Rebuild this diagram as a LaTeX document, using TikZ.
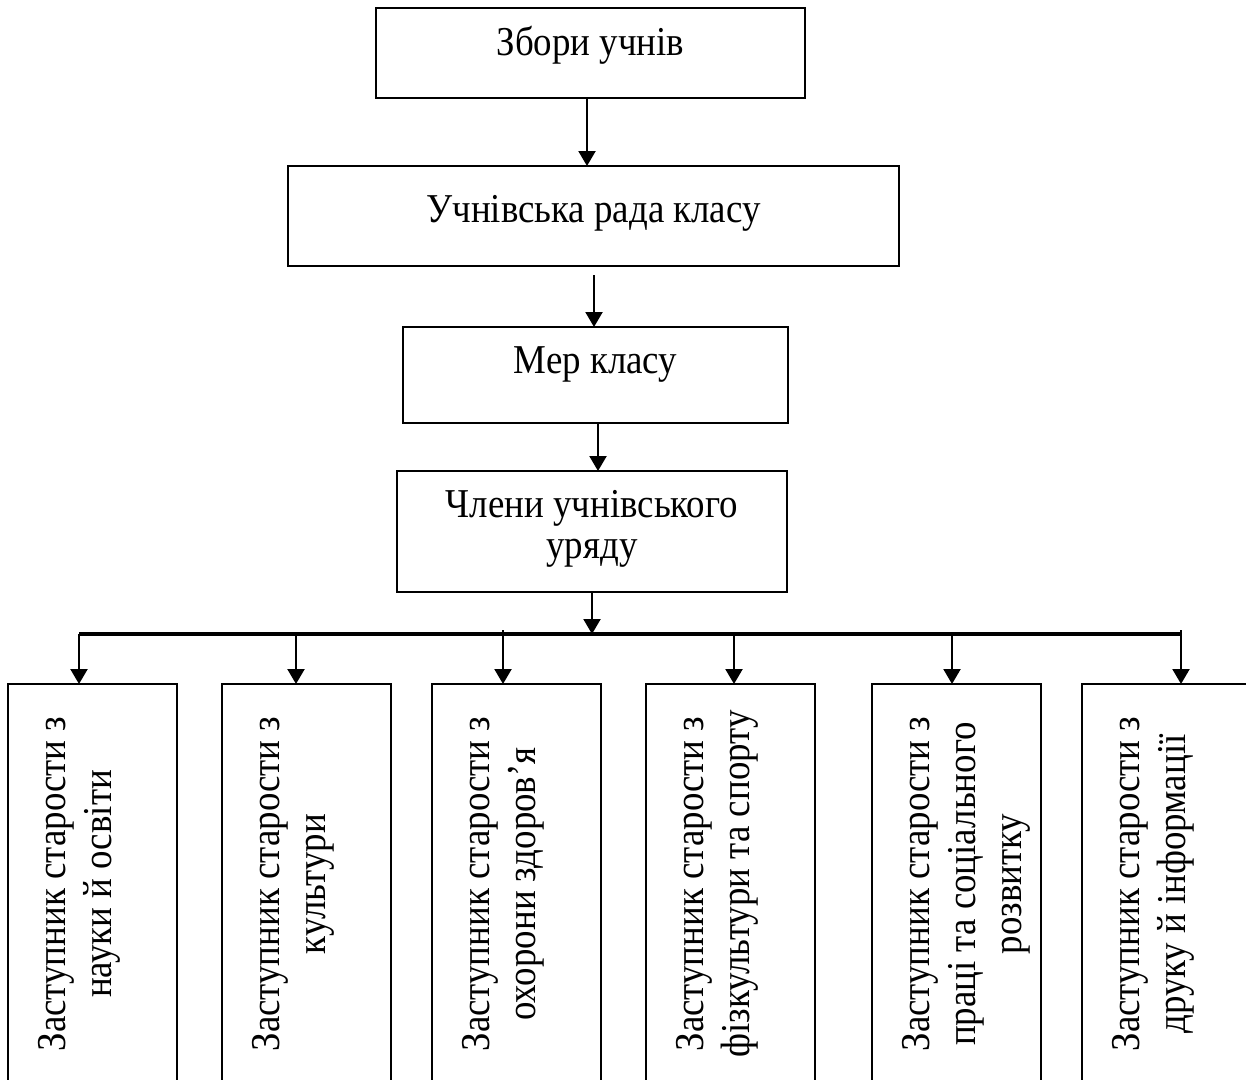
\documentclass[tikz,border=0pt]{standalone}
\usepackage{fontspec}
\setmainfont[FakeStretch=0.9]{Liberation Serif}
\usetikzlibrary{arrows.meta}
\begin{document}
\begin{tikzpicture}[x=1pt,y=-1pt,
  box/.style={draw, line width=2pt, inner sep=0pt, outer sep=0pt},
  arr/.style={line width=2.2pt, -{Triangle[length=15pt,width=17pt]}},
  bus/.style={line width=3.8pt},
  htext/.style={font=\fontsize{41}{41}\selectfont, inner sep=0pt, align=center},
  vtext/.style={font=\fontsize{41}{46}\selectfont, inner sep=0pt, align=center, rotate=90, anchor=north}]
\useasboundingbox (0,0) rectangle (1246,1079);
\clip (0,0) rectangle (1246,1079);
\fill[white] (0,0) rectangle (1246,1079);

% upper chain
\node[box, minimum width=429pt, minimum height=90pt] (b1) at (590.5,53) {};
\node[htext, anchor=base] (t1) at (590.5,55) {Збори учнів};
\node[box, minimum width=611pt, minimum height=100pt] (b2) at (593.5,216) {};
\node[htext, anchor=base] (t2) at (593.5,222) {Учнівська рада класу};
\node[box, minimum width=385pt, minimum height=96pt] (b3) at (595.5,375) {};
\node[htext, anchor=base] (t3) at (595.5,373) {Мер класу};
\node[box, minimum width=390pt, minimum height=121pt] (b4) at (592,531.5) {};
\node[htext, anchor=north] (t4) at (592,490) {Члени учнівського\\уряду};

% lower boxes
\node[box, minimum width=169pt, minimum height=430pt] (v1) at (92.5,899) {};
\node[box, minimum width=169pt, minimum height=430pt] (v2) at (306.5,899) {};
\node[box, minimum width=169pt, minimum height=430pt] (v3) at (516.5,899) {};
\node[box, minimum width=169pt, minimum height=430pt] (v4) at (730.5,899) {};
\node[box, minimum width=169pt, minimum height=430pt] (v5) at (956.5,899) {};
\node[box, minimum width=170pt, minimum height=430pt] (v6) at (1167,899) {};

\node[vtext] (u1) at (38,884) {Заступник старости з\\науки й освіти};
\node[vtext] (u2) at (252,884) {Заступник старости з\\культури};
\node[vtext] (u3) at (462,884) {Заступник старости з\\охорони здоров’я};
\node[vtext] (u4) at (676,884) {Заступник старости з\\фізкультури та спорту};
\node[vtext] (u5) at (902,884) {Заступник старости з\\праці та соціального\\розвитку};
\node[vtext] (u6) at (1112,884) {Заступник старости з\\друку й інформації};

% connectors of the chain
\draw[arr] ([xshift=-3.5pt]b1.south) -- ([xshift=-6.5pt]b2.north);
\draw[arr] ([xshift=0.5pt,yshift=-9pt]b2.south) -- ([xshift=-1.5pt]b3.north);
\draw[arr] ([xshift=2.5pt]b3.south) -- ([xshift=6pt]b4.north);

% bus
\coordinate (j1) at (79,634);
\coordinate (j2) at (296,634);
\coordinate (j3) at (503,634);
\coordinate (j4) at (734,634);
\coordinate (j5) at (952,634);
\coordinate (j6) at (1181,634);
\draw[arr] (b4.south) -- (b4.south |- j1);
\draw[bus] (j1) -- (j6);
\draw[arr] (j1) -- (j1 |- v1.north);
\draw[arr] (j2) -- (j2 |- v2.north);
\draw[arr] ([yshift=4pt]j3) -- (j3 |- v3.north);
\draw[arr] (j4) -- (j4 |- v4.north);
\draw[arr] (j5) -- (j5 |- v5.north);
\draw[arr] ([yshift=4pt]j6) -- (j6 |- v6.north);
\end{tikzpicture}
\end{document}
